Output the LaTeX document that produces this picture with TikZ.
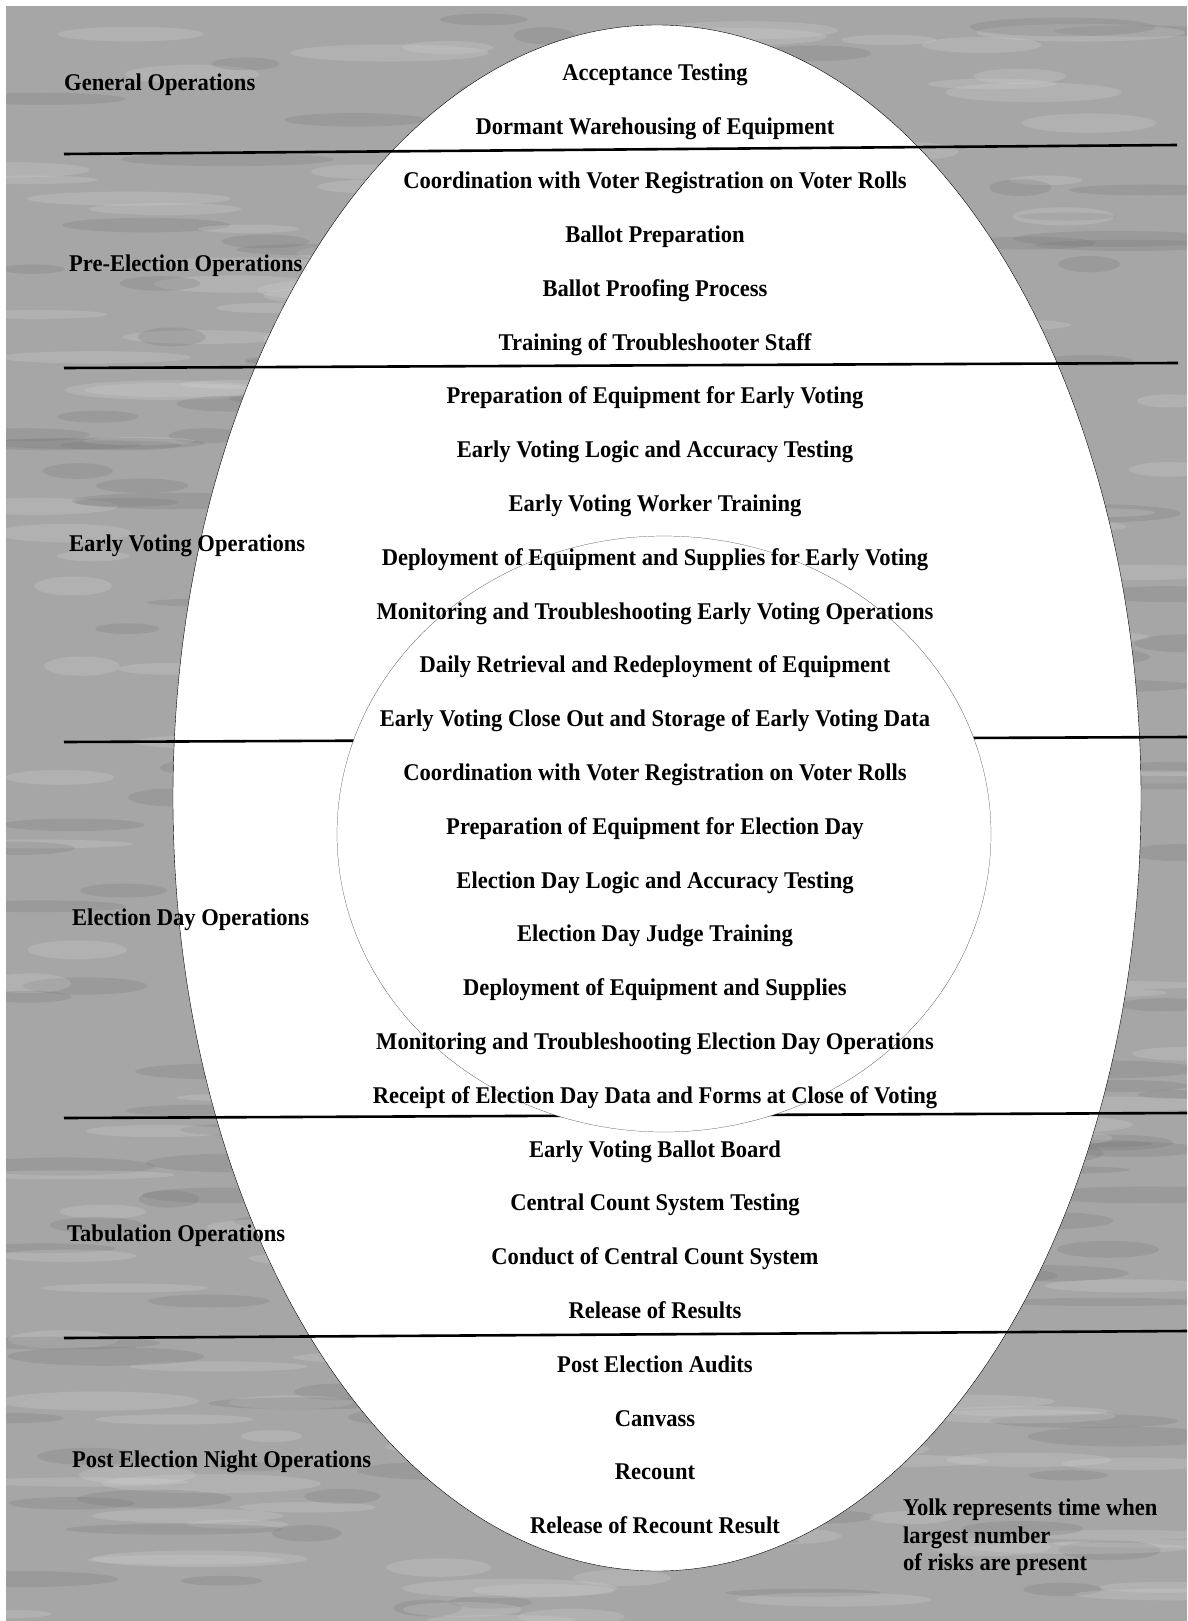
\documentclass[tikz,border=0pt]{standalone}
\usepackage{fontspec}
\setmainfont{Liberation Serif}[FakeStretch=0.94]
\usetikzlibrary{positioning}

\begin{document}
\begin{tikzpicture}[x=1pt,y=-1pt,
  task/.style={font=\bfseries\fontsize{24}{27.5}\selectfont,inner sep=0pt,anchor=base},
  phase/.style={task,anchor=base west},
  divider/.style={line width=2.6pt}]
  \useasboundingbox (0,0) rectangle (1187,1621);
  % textured backdrop
  \fill[black!35] (6,6) rectangle (1187,1621);
  \pgfmathsetseed{11}
  \begin{scope}
    \clip (6,6) rectangle (1187,1621);
    \foreach \k in {1,...,420}{
      \pgfmathsetmacro\bx{6+1181*rnd}
      \pgfmathsetmacro\by{6+1615*rnd}
      \pgfmathsetmacro\bw{30+80*rnd}
      \pgfmathsetmacro\bh{4+6*rnd}
      \pgfmathtruncatemacro\bc{rnd>0.5 ? 55 : 15}
      \fill[black!\bc,opacity=0.22] (\bx,\by) ellipse [x radius=\bw, y radius=\bh];
    }
  \end{scope}
  % the egg
  \draw[thin,fill=white] (657,798) ellipse [x radius=484, y radius=773];
  \draw[divider] (64,154) -- (1177,145);
  \draw[divider] (64,368) -- (1178,363);
  \draw[divider] (64,742) -- (1187,737);
  \draw[divider] (64,1118) -- (1187,1113);
  \draw[divider] (64,1338) -- (1187,1331);
  % the yolk
  \draw[very thin,black!80,fill=white] (664,834) ellipse [x radius=327, y radius=298];
  \foreach \t [count=\i] in {Acceptance Testing,
    Dormant Warehousing of Equipment,
    Coordination with Voter Registration on Voter Rolls,
    Ballot Preparation,
    Ballot Proofing Process,
    Training of Troubleshooter Staff,
    Preparation of Equipment for Early Voting,
    Early Voting Logic and Accuracy Testing,
    Early Voting Worker Training,
    Deployment of Equipment and Supplies for Early Voting,
    Monitoring and Troubleshooting Early Voting Operations,
    Daily Retrieval and Redeployment of Equipment,
    Early Voting Close Out and Storage of Early Voting Data,
    Coordination with Voter Registration on Voter Rolls,
    Preparation of Equipment for Election Day,
    Election Day Logic and Accuracy Testing,
    Election Day Judge Training,
    Deployment of Equipment and Supplies,
    Monitoring and Troubleshooting Election Day Operations,
    Receipt of Election Day Data and Forms at Close of Voting,
    Early Voting Ballot Board,
    Central Count System Testing,
    Conduct of Central Count System,
    Release of Results,
    Post Election Audits,
    Canvass,
    Recount,
    Release of Recount Result}
    \node[task] (task\i) at (655,{81+53.8*(\i-1)}) {\t};
  % phase names
  \node[phase] (general) at (64,91) {General Operations};
  \node[phase] (preelect) at (69,271) {Pre-Election Operations};
  \node[phase] (early) at (69,551) {Early Voting Operations};
  \node[phase] (elday) at (72,925) {Election Day Operations};
  \node[phase] (tabul) at (67,1241) {Tabulation Operations};
  \node[phase] (postel) at (72,1467) {Post Election Night Operations};
  \node[phase,anchor=north west,align=left] (yolknote) at (903,1499)
    {Yolk represents time when\\largest number\\of risks are present};
\end{tikzpicture}
\end{document}
